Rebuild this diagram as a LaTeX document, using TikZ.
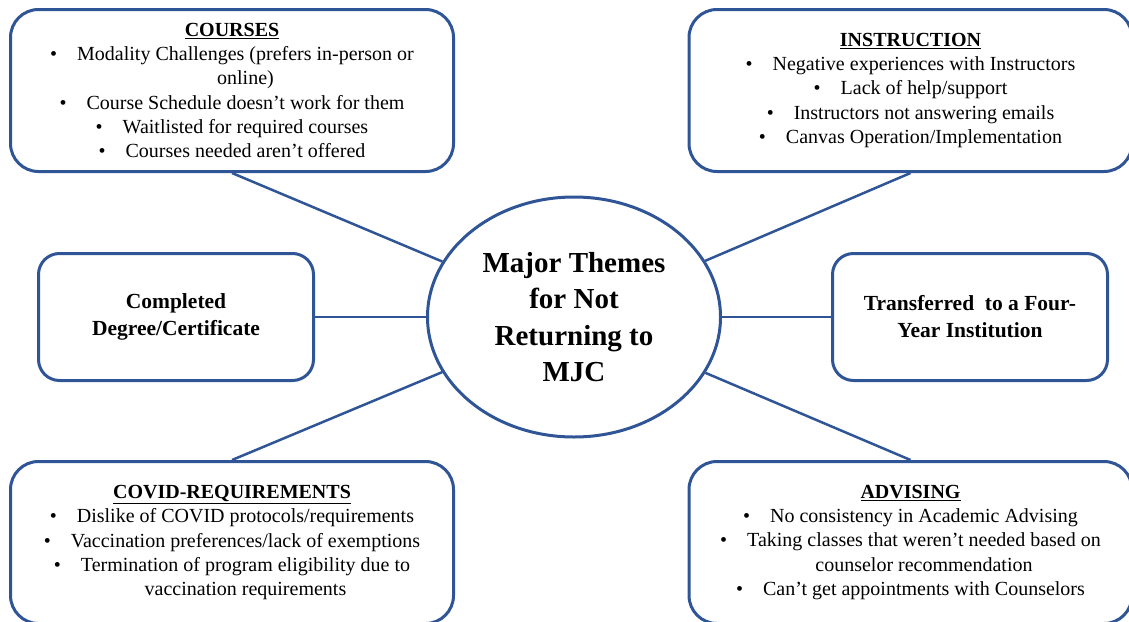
\documentclass[tikz,border=0pt]{standalone}
\usepackage{fontspec}
\setmainfont{Liberation Serif}
\usepackage{tikz}
\usetikzlibrary{shapes.geometric}
\definecolor{themeblue}{RGB}{47,85,151}
\newcommand{\itm}[1]{\textbullet\hspace{1em}#1}
\newcommand{\cnt}[1]{\phantom{\textbullet}\hspace{1em}#1}

\begin{document}
\begin{tikzpicture}[x=1pt,y=-1pt,
  bigbox/.style={draw=themeblue,line width=3pt,rounded corners=28pt,
    minimum width=443pt,minimum height=162pt,inner sep=0pt,align=center,
    font=\fontsize{20}{24.3}\selectfont},
  midbox/.style={draw=themeblue,line width=3pt,rounded corners=21pt,
    minimum width=275pt,minimum height=127pt,inner sep=0pt,align=center,
    font=\fontsize{21.5}{27}\selectfont\bfseries},
  link/.style={draw=themeblue,line width=2.5pt}]
  \useasboundingbox (0,0) rectangle (1129,621);

  %centre
  \node[ellipse,draw=themeblue,line width=3pt,minimum width=293pt,
    minimum height=240pt,inner sep=0pt,align=center,
    font=\fontsize{29}{36.5}\selectfont\bfseries] (theme) at (574,317)
    {Major Themes\\for Not\\Returning to\\MJC};

  %top row
  \node[bigbox] (courses) at (232,90.5) {\underline{\textbf{COURSES}}\\
    \itm{Modality Challenges (prefers in-person or}\\
    \cnt{online)}\\
    \itm{Course Schedule doesn't work for them}\\
    \itm{Waitlisted for required courses}\\
    \itm{Courses needed aren't offered}};
  \node[bigbox] (instr) at (910.5,90.5) {\underline{\textbf{INSTRUCTION}}\\
    \itm{Negative experiences with Instructors}\\
    \itm{Lack of help/support}\\
    \itm{Instructors not answering emails}\\
    \itm{Canvas Operation/Implementation}};

  %middle row
  \node[midbox] (degree) at (176,317) {Completed\\Degree/Certificate};
  \node[midbox] (transfer) at (970,317) {Transferred\ \ to a Four-\\Year Institution};

  %bottom row
  \node[bigbox] (covid) at (232,542.5) {\underline{\textbf{COVID-REQUIREMENTS}}\\
    \itm{Dislike of COVID protocols/requirements}\\
    \itm{Vaccination preferences/lack of exemptions}\\
    \itm{Termination of program eligibility due to}\\
    \cnt{vaccination requirements}};
  \node[bigbox] (advis) at (910.5,542.5) {\underline{\textbf{ADVISING}}\\
    \itm{No consistency in Academic Advising}\\
    \itm{Taking classes that weren't needed based on}\\
    \cnt{counselor recommendation}\\
    \itm{Can't get appointments with Counselors}};

  %spokes
  \draw[link] (courses.south) -- (theme);
  \draw[link] (instr.south) -- (theme);
  \draw[link] (degree.east) -- (theme.west);
  \draw[link] (transfer.west) -- (theme.east);
  \draw[link] (covid.north) -- (theme);
  \draw[link] (advis.north) -- (theme);
\end{tikzpicture}
\end{document}
